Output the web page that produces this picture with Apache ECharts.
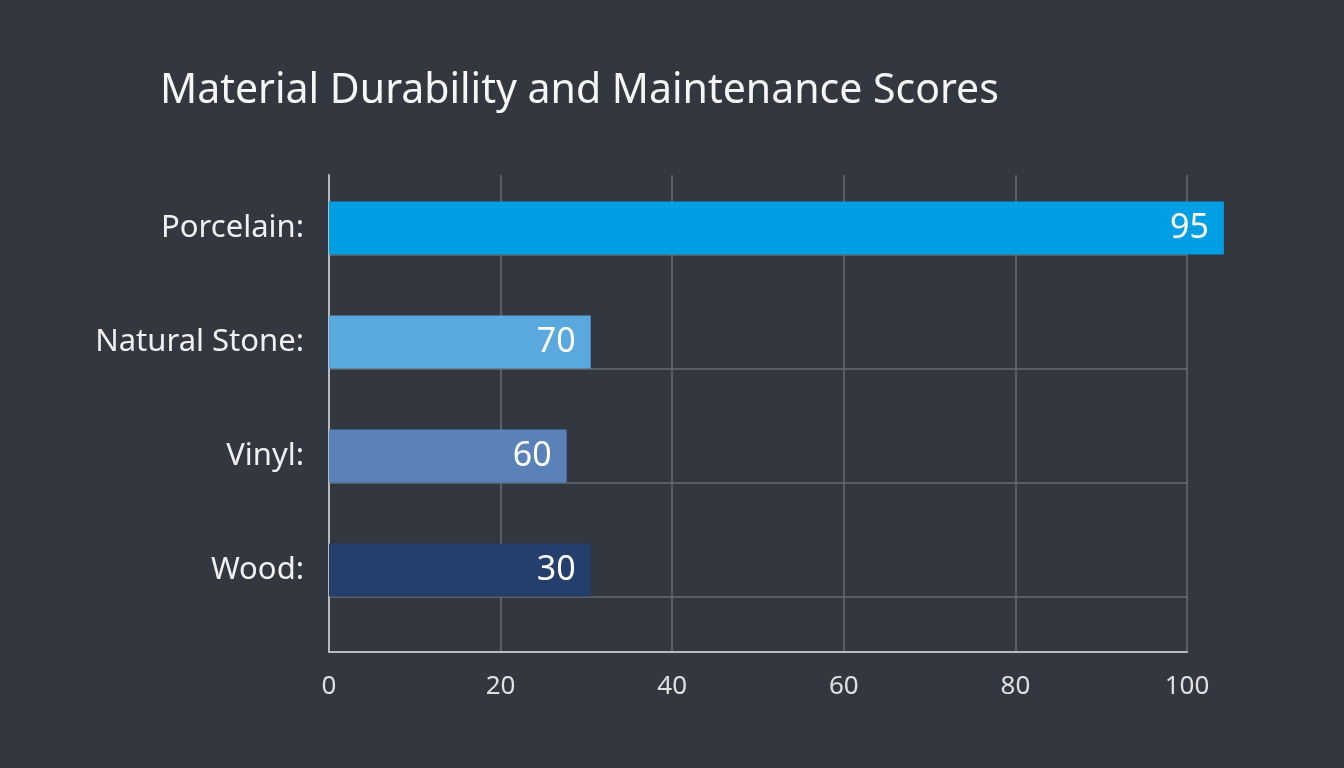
<!DOCTYPE html>
<html lang="en">
<head>
<meta charset="UTF-8" />
<title>Material Durability and Maintenance Scores</title>
<script src="https://cdn.jsdelivr.net/npm/echarts@6/dist/echarts.min.js"></script>
<style>
  html, body { margin: 0; padding: 0; background: #33373f; }
  #main { width: 1344px; height: 768px; }
</style>
</head>
<body>
<div id="main"></div>
<script>
  // values
  var materials = ["Porcelain:", "Natural Stone:", "Vinyl:", "Wood:"];
  var barLengths = [104.3, 30.5, 27.7, 30.5]; // drawn bar lengths on the 0-100 axis
  var scoreLabels = ["95", "70", "60", "30"]; // text printed at the bar ends
  var barColors = ["#009fe3", "#59a9df", "#5a81b8", "#253f6c"];

  var font = "Noto Sans";
  var chart = echarts.init(document.getElementById("main"));

  var option = {
    backgroundColor: "#33373f",
    textStyle: { fontFamily: font },
    title: {
      text: "Material Durability and Maintenance Scores",
      left: 155,
      top: 66,
      textStyle: { color: "#f6f6f6", fontSize: 41, fontWeight: "normal", fontFamily: font }
    },
    grid: [
      // grid for the bars
      { left: 329, right: 157, top: 171, height: 456 },
      // grid for the axes and grid lines
      { left: 329, right: 157, top: 175, height: 477 }
    ],
    xAxis: [
      { gridIndex: 0, type: "value", min: 0, max: 100, show: false },
      {
        gridIndex: 1,
        type: "value",
        min: 0,
        max: 100,
        interval: 20,
        position: "bottom",
        axisLine: { show: true, onZero: false, lineStyle: { color: "#b7bac0", width: 2 } },
        axisTick: { show: false },
        splitLine: { show: true, lineStyle: { color: "#686c73", width: 1.5 } },
        axisLabel: { color: "#e0e0e0", fontSize: 26, margin: 22, fontFamily: font }
      }
    ],
    yAxis: [
      {
        gridIndex: 0,
        type: "category",
        inverse: true,
        data: materials,
        axisLine: { show: false },
        axisTick: { show: false },
        splitLine: { show: false },
        axisLabel: { color: "#f0f0f0", fontSize: 31, margin: 25, fontFamily: font }
      },
      {
        gridIndex: 1,
        type: "value",
        inverse: true,
        min: -0.7,
        max: 3.484,
        axisLine: { show: true, onZero: false, lineStyle: { color: "#b7bac0", width: 2 } },
        axisTick: { show: false },
        axisLabel: { show: false },
        splitLine: {
          show: true,
          showMinLine: false,
          showMaxLine: false,
          lineStyle: { color: "#686c73", width: 1.5 }
        }
      }
    ],
    series: [
      {
        type: "bar",
        xAxisIndex: 0,
        yAxisIndex: 0,
        barWidth: 53,
        clip: false,
        z: 3,
        data: barLengths.map(function (v, i) {
          return { value: v, itemStyle: { color: barColors[i] } };
        }),
        label: {
          show: true,
          position: "insideRight",
          distance: 15,
          color: "#ffffff",
          fontSize: 34,
          fontFamily: font,
          formatter: function (p) {
            return scoreLabels[p.dataIndex];
          }
        }
      }
    ]
  };
  chart.setOption(option);
</script>
</body>
</html>
